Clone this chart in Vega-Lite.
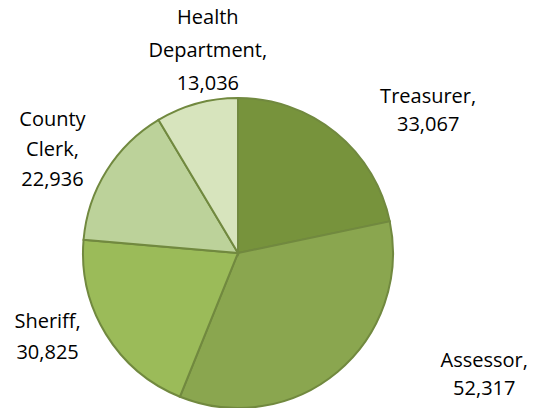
{
  "$schema": "https://vega.github.io/schema/vega-lite/v6.json",
  "width": 476,
  "height": 310,
  "autosize": "none",
  "padding": {"left": 0, "top": 98, "right": 68, "bottom": 0},
  "background": "white",
  "config": {"view": {"stroke": null}, "text": {"lineBreak": "\n"}},
  "data": {
    "values": [
      {"dept": "Treasurer", "value": 33067, "order": 1, "label": "Treasurer,\n33,067"},
      {"dept": "Assessor", "value": 52317, "order": 2, "label": "Assessor,\n52,317"},
      {"dept": "Sheriff", "value": 30825, "order": 3, "label": "Sheriff,\n30,825"},
      {"dept": "County Clerk", "value": 22936, "order": 4, "label": "County\nClerk,\n22,936"},
      {"dept": "Health Department", "value": 13036, "order": 5, "label": "Health\nDepartment,\n13,036"}
    ]
  },
  "encoding": {
    "theta": {"field": "value", "type": "quantitative", "stack": true},
    "order": {"field": "order", "type": "quantitative"},
    "detail": {"field": "dept", "type": "nominal"}
  },
  "layer": [
    {
      "mark": {"type": "arc", "outerRadius": 155, "stroke": "#71893f", "strokeWidth": 2},
      "encoding": {
        "color": {
          "field": "dept", "type": "nominal", "legend": null,
          "scale": {
            "domain": ["Treasurer", "Assessor", "Sheriff", "County Clerk", "Health Department"],
            "range": ["#77933c", "#8aa64f", "#9bbb59", "#bcd29a", "#d7e4bd"]
          }
        }
      }
    },
    {
      "mark": {"type": "text", "radius": 200, "dx": 64, "dy": -1, "font": "Open Sans", "fontSize": 20, "lineHeight": 28, "align": "center", "baseline": "middle", "color": "black"},
      "encoding": {"text": {"condition": {"test": "datum.dept === 'Treasurer'", "field": "label"}, "value": ""}}
    },
    {
      "mark": {"type": "text", "radius": 200, "dx": 118, "dy": -45, "font": "Open Sans", "fontSize": 20, "lineHeight": 28, "align": "center", "baseline": "middle", "color": "black"},
      "encoding": {"text": {"condition": {"test": "datum.dept === 'Assessor'", "field": "label"}, "value": ""}}
    },
    {
      "mark": {"type": "text", "radius": 200, "dx": -20, "dy": -36, "font": "Open Sans", "fontSize": 20, "lineHeight": 31, "align": "center", "baseline": "middle", "color": "black"},
      "encoding": {"text": {"condition": {"test": "datum.dept === 'Sheriff'", "field": "label"}, "value": ""}}
    },
    {
      "mark": {"type": "text", "radius": 200, "dx": -16, "dy": -27, "font": "Open Sans", "fontSize": 20, "lineHeight": 30, "align": "center", "baseline": "middle", "color": "black"},
      "encoding": {"text": {"condition": {"test": "datum.dept === 'County Clerk'", "field": "label"}, "value": ""}}
    },
    {
      "mark": {"type": "text", "radius": 200, "dx": 23, "dy": -42, "font": "Open Sans", "fontSize": 20, "lineHeight": 33, "align": "center", "baseline": "middle", "color": "black"},
      "encoding": {"text": {"condition": {"test": "datum.dept === 'Health Department'", "field": "label"}, "value": ""}}
    }
  ]
}
